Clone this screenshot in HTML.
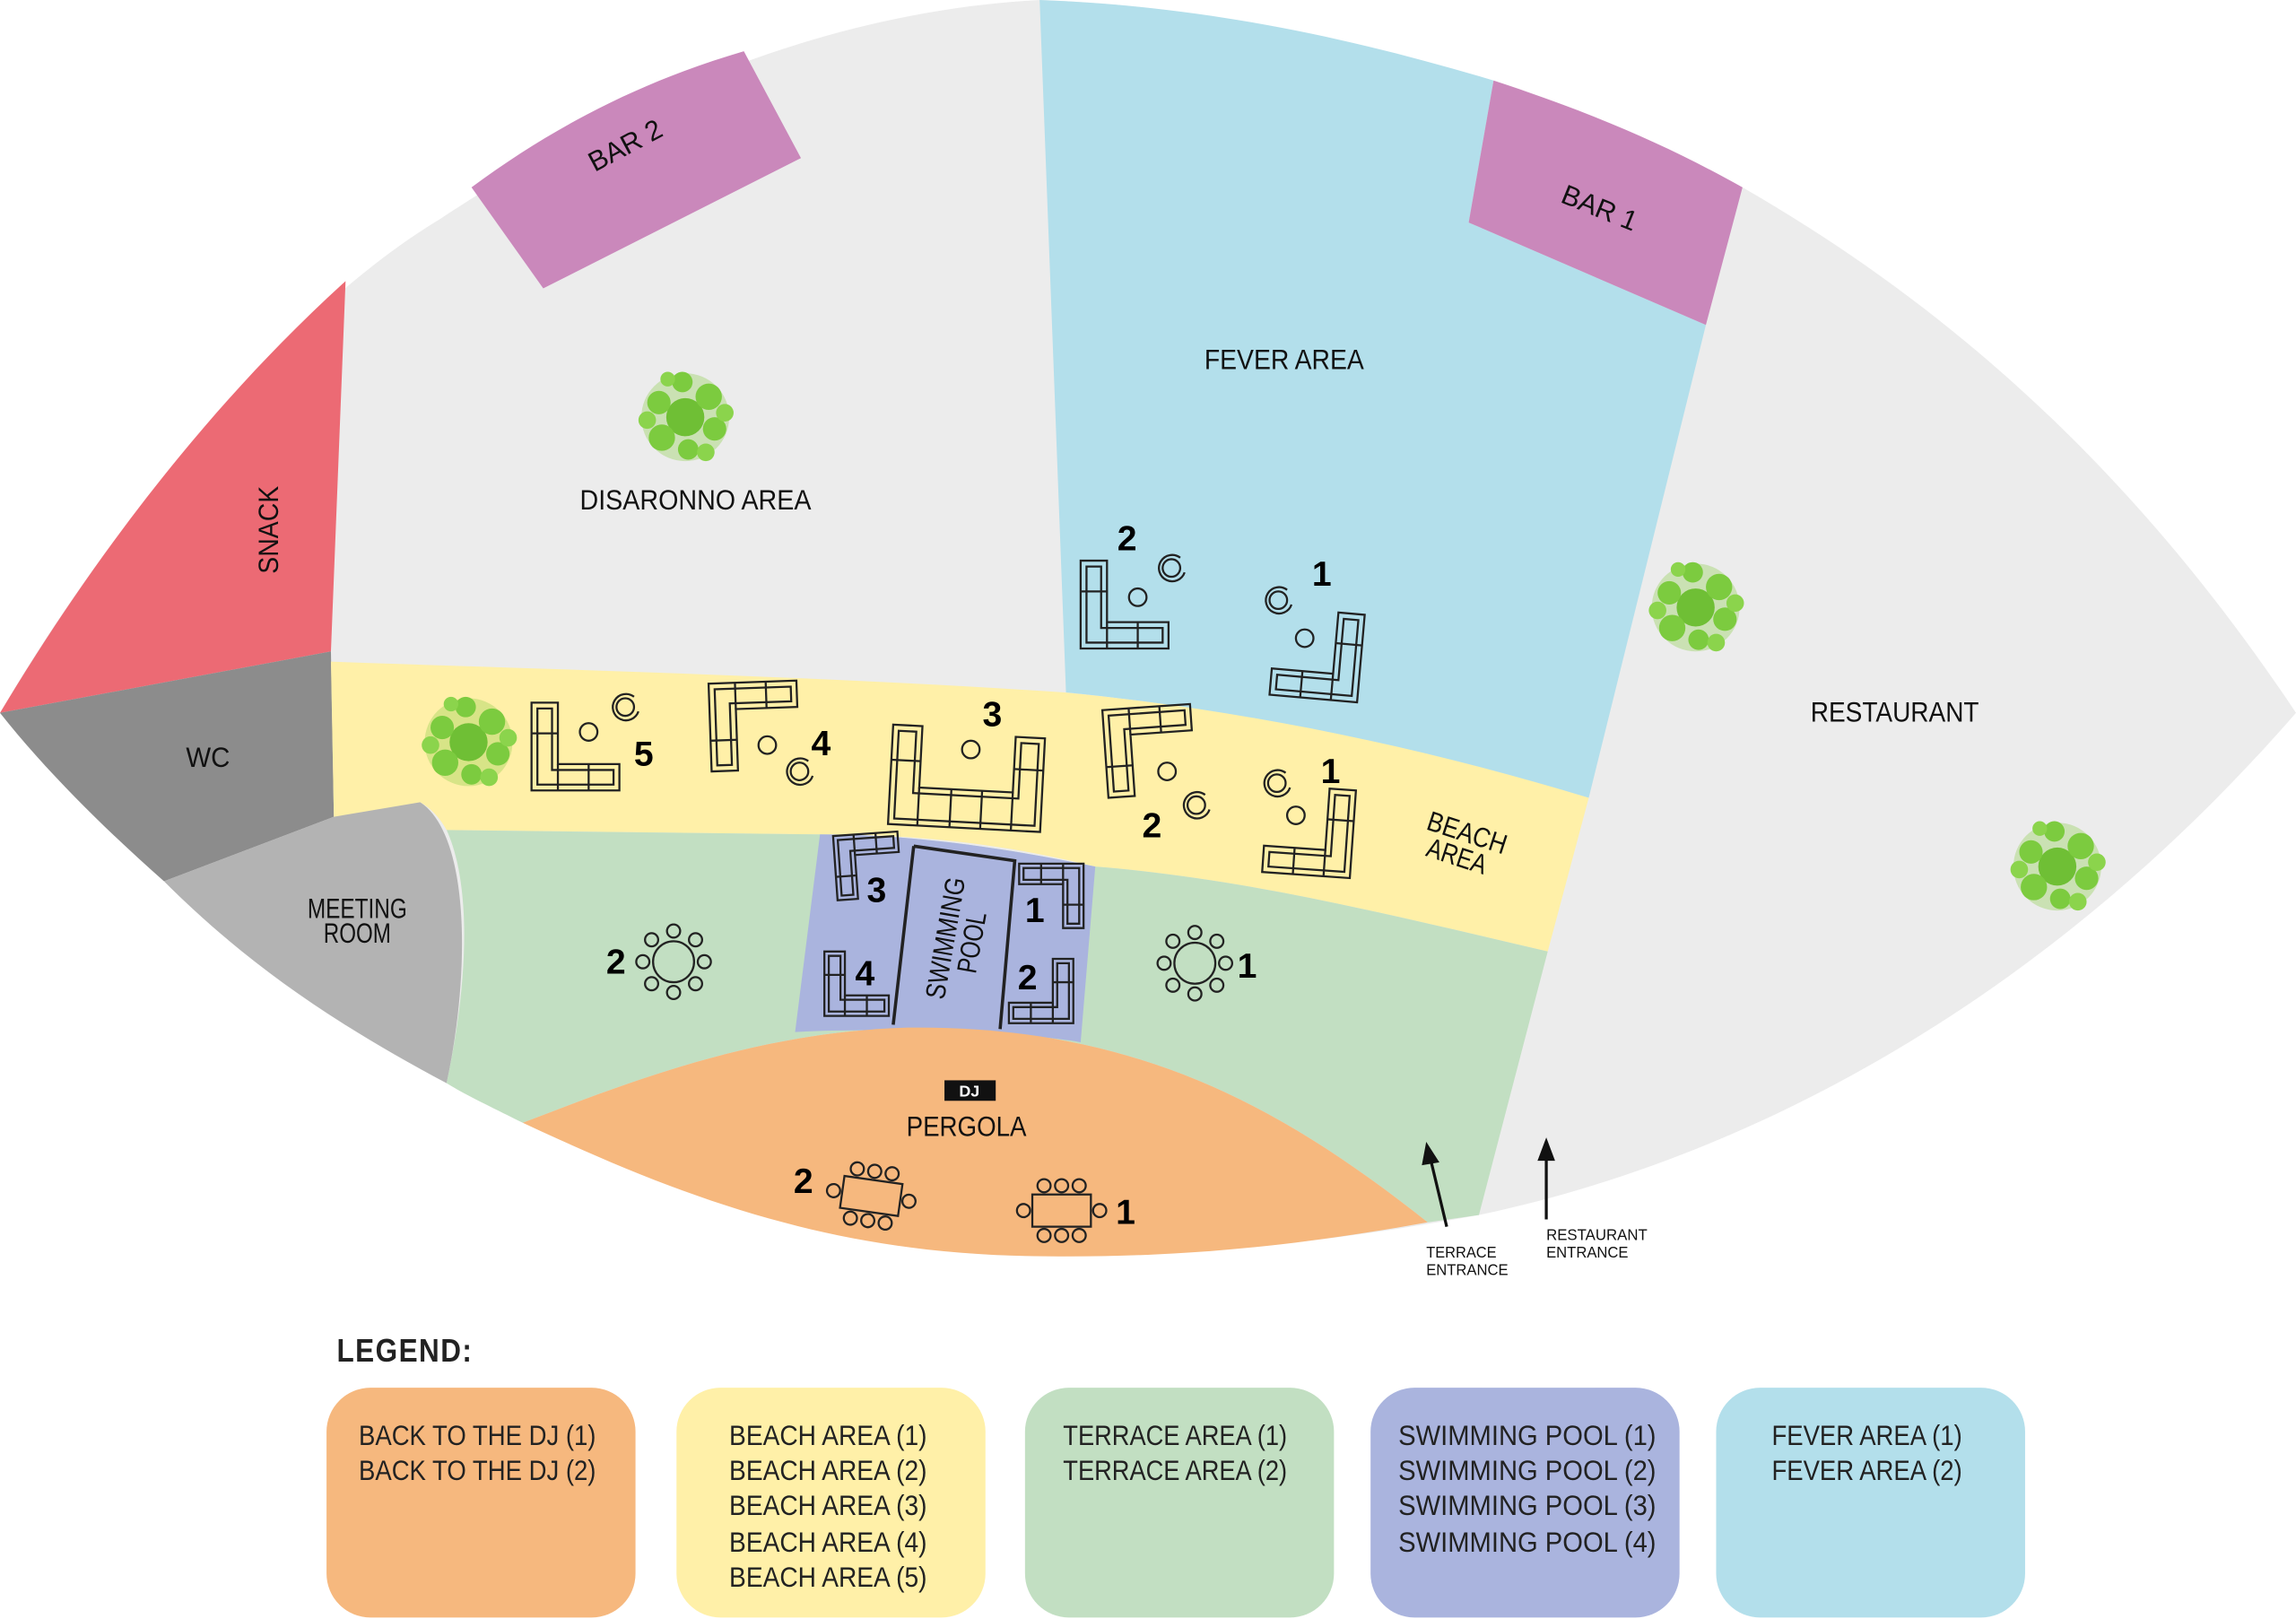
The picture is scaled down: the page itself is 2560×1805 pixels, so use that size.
<!DOCTYPE html>
<html><head><meta charset="utf-8"><style>
html,body{margin:0;padding:0;background:#fff;}
svg{display:block;}
text{font-family:"Liberation Sans Narrow","Liberation Sans",sans-serif;}
.lbl{font-size:19px;fill:#111;}
.num{font-size:24px;font-weight:bold;fill:#000;}
.lg{font-size:19px;fill:#222;}
.f{fill:none;stroke:#222;stroke-width:1.4;}
</style></head><body>
<svg width="2560" height="1805" viewBox="0 0 1568 1106" preserveAspectRatio="none" xmlns="http://www.w3.org/2000/svg">
<defs>
<g id="tree">
<circle r="30" fill="#8bcf4a" opacity="0.35"/>
<circle cx="0" cy="0" r="13" fill="#6fbf35"/>
<circle cx="-18" cy="-10" r="8" fill="#7ccb3f"/><circle cx="16" cy="-14" r="9" fill="#7ccb3f"/>
<circle cx="20" cy="8" r="8" fill="#7ccb3f"/><circle cx="-16" cy="14" r="9" fill="#7ccb3f"/>
<circle cx="2" cy="22" r="7" fill="#7ccb3f"/><circle cx="-2" cy="-24" r="7" fill="#7ccb3f"/>
<circle cx="-26" cy="2" r="6" fill="#8bd44c"/><circle cx="27" cy="-3" r="6" fill="#8bd44c"/>
<circle cx="14" cy="24" r="6" fill="#8bd44c"/><circle cx="-12" cy="-26" r="5" fill="#8bd44c"/>
</g>
<g id="sofaL" class="f">
<path d="M0 0h18v42h42v18H0z"/><path d="M4 4h10v42h42v10H4z"/>
<path d="M0 21h18M18 42v18M39 42v18"/>
</g>
<g id="sofaS" class="f">
<path d="M0 0h14v30h30v14H0z"/><path d="M3 3h8v30h30v8H3z"/>
<path d="M0 16h14M14 30v14M29 30v14"/>
</g>
<g id="rt" class="f">
<circle r="14"/>
<circle cx="0" cy="-21" r="4.5"/><circle cx="15" cy="-15" r="4.5"/><circle cx="21" cy="0" r="4.5"/><circle cx="15" cy="15" r="4.5"/>
<circle cx="0" cy="21" r="4.5"/><circle cx="-15" cy="15" r="4.5"/><circle cx="-21" cy="0" r="4.5"/><circle cx="-15" cy="-15" r="4.5"/>
</g>
<g id="tab" class="f">
<rect x="-20" y="-11" width="40" height="22"/>
<circle cx="-12" cy="-17" r="4.5"/><circle cx="0" cy="-17" r="4.5"/><circle cx="12" cy="-17" r="4.5"/>
<circle cx="-12" cy="17" r="4.5"/><circle cx="0" cy="17" r="4.5"/><circle cx="12" cy="17" r="4.5"/>
<circle cx="-26" cy="0" r="4.5"/><circle cx="26" cy="0" r="4.5"/>
</g>
<g id="chair" class="f"><path d="M6 -7 A9 9 0 1 0 9 3"/><circle r="6"/></g>
</defs>
<path d="M0 487 C80 350 200 210 300 150 C420 70 560 8 710 0 C850 5 1000 40 1190 128 C1350 220 1470 340 1568 487 C1400 680 1200 790 1010 830 C900 850 800 860 700 858 C560 855 450 810 305 740 C200 680 100 600 0 487Z" fill="#ececec"/>
<path d="M0 487 C70 370 150 270 236 192 L226 445 Z" fill="#ec6a74"/>
<path d="M0 487 L226 445 L228 558 L112 602 C70 565 30 525 0 487Z" fill="#8c8c8c"/>
<path d="M112 602 L228 558 C250 552 270 548 287 548 C320 570 322 660 305 740 C230 700 170 660 112 602Z" fill="#b3b3b3"/>
<path d="M710 0 C820 4 920 25 1020 55 L1003 152 L1165 222 L1085 545 C960 510 850 485 728 473 Z" fill="#b3dfeb"/>
<path d="M322 128 C380 85 440 55 508 35 L547 108 L371 197Z" fill="#ca88bb"/>
<path d="M1020 55 C1090 78 1140 100 1190 128 L1165 222 L1003 152Z" fill="#ca88bb"/>
<path d="M226 452 C400 458 560 462 727 473 C850 485 970 510 1085 545 L1057 650 C950 625 850 600 748 592 C680 575 620 570 560 570 L305 567 C300 558 294 552 287 548 L228 558Z" fill="#fff0a8"/>
<path d="M305 567 L560 570 C620 570 680 578 748 592 C850 600 950 625 1057 650 L1010 830 L975 835 C880 760 780 700 620 702 C520 705 440 735 357 767 C335 756 318 748 305 740 C322 660 320 600 305 567Z" fill="#c2dfc2"/>
<path d="M560 570 C620 570 680 578 748 592 L738 712 C700 705 600 702 543 705Z" fill="#aab4de"/>
<path d="M357 767 C440 735 520 705 620 702 C780 700 880 760 975 835 C880 852 800 860 700 858 C560 855 460 815 357 767Z" fill="#f6b87e"/>
<path d="M624 578 L693 588 L683 703 M610 700 L624 578" fill="none" stroke="#222" stroke-width="2.2"/>
<text class="lbl" font-size="17" transform="translate(652,642) rotate(-80)" text-anchor="middle" textLength="84" lengthAdjust="spacingAndGlyphs">SWIMMING</text>
<text class="lbl" font-size="17" transform="translate(670,645) rotate(-80)" text-anchor="middle" textLength="42" lengthAdjust="spacingAndGlyphs">POOL</text>
<text class="lbl" x="430" y="105" transform="rotate(-28 430 105)" text-anchor="middle" textLength="54" lengthAdjust="spacingAndGlyphs">BAR 2</text>
<text class="lbl" x="1090" y="148" transform="rotate(22 1090 148)" text-anchor="middle" textLength="54" lengthAdjust="spacingAndGlyphs">BAR 1</text>
<text class="lbl" x="877" y="252" text-anchor="middle" textLength="109" lengthAdjust="spacingAndGlyphs">FEVER AREA</text>
<text class="lbl" x="475" y="348" text-anchor="middle" textLength="158" lengthAdjust="spacingAndGlyphs">DISARONNO AREA</text>
<text class="lbl" x="1294" y="493" text-anchor="middle" textLength="115" lengthAdjust="spacingAndGlyphs">RESTAURANT</text>
<text class="lbl" transform="translate(190,362) rotate(-90)" text-anchor="middle" textLength="60" lengthAdjust="spacingAndGlyphs">SNACK</text>
<text class="lbl" x="142" y="524" text-anchor="middle" textLength="30" lengthAdjust="spacingAndGlyphs">WC</text>
<text class="lbl" font-size="16" x="244" y="627" text-anchor="middle" textLength="68" lengthAdjust="spacingAndGlyphs">MEETING</text>
<text class="lbl" font-size="16" x="244" y="644" text-anchor="middle" textLength="46" lengthAdjust="spacingAndGlyphs">ROOM</text>
<text class="lbl" font-size="17" transform="translate(1000,575) rotate(18)" text-anchor="middle" textLength="56" lengthAdjust="spacingAndGlyphs">BEACH</text>
<text class="lbl" font-size="17" transform="translate(993,591) rotate(18)" text-anchor="middle" textLength="42" lengthAdjust="spacingAndGlyphs">AREA</text>
<rect x="645" y="738" width="35" height="14" fill="#111"/>
<text x="662" y="749" fill="#fff" font-size="11" font-weight="bold" text-anchor="middle">DJ</text>
<text class="lbl" x="660" y="776" text-anchor="middle" textLength="82" lengthAdjust="spacingAndGlyphs">PERGOLA</text>
<path d="M988 838 L977 792" stroke="#111" stroke-width="2"/><path d="M974 780 L971 796 L983 794Z" fill="#111"/>
<path d="M1056 833 L1056 790" stroke="#111" stroke-width="2"/><path d="M1056 777 L1050 793 L1062 793Z" fill="#111"/>
<text font-size="11" x="974" y="859" fill="#111" textLength="48" lengthAdjust="spacingAndGlyphs">TERRACE</text><text font-size="11" x="974" y="871" fill="#111" textLength="56" lengthAdjust="spacingAndGlyphs">ENTRANCE</text>
<text font-size="11" x="1056" y="847" fill="#111" textLength="69" lengthAdjust="spacingAndGlyphs">RESTAURANT</text><text font-size="11" x="1056" y="859" fill="#111" textLength="56" lengthAdjust="spacingAndGlyphs">ENTRANCE</text>
<use href="#tree" x="468" y="285"/><use href="#tree" x="320" y="507"/><use href="#tree" x="1158" y="415"/><use href="#tree" x="1405" y="592"/>
<use href="#sofaL" x="738" y="383"/><use href="#chair" x="800" y="388"/><circle class="f" cx="777" cy="408" r="6"/><text class="num" x="763" y="376">2</text>
<use href="#sofaL" transform="translate(932,420) scale(-1,1) rotate(-5)"/><use href="#chair" x="873" y="410"/><circle class="f" cx="891" cy="436" r="6"/><text class="num" x="896" y="400">1</text>
<use href="#sofaL" x="363" y="480"/><circle class="f" cx="402" cy="500" r="6"/><use href="#chair" x="427" y="483"/><text class="num" x="433" y="523">5</text>
<use href="#sofaL" transform="translate(486,527) scale(1,-1) rotate(2)"/><circle class="f" cx="524" cy="509" r="6"/><use href="#chair" x="546" y="527"/><text class="num" x="554" y="516">4</text>
<g class="f" transform="translate(610,495) rotate(3)"><path d="M0 0h20v42h64v-38h20v64H0z"/><path d="M4 4h12v42h72v-38h12v56H4z"/><path d="M0 24h20M84 26h20M20 42v26M42 42v26M63 42v26M84 42v26"/></g>
<circle class="f" cx="663" cy="512" r="6"/><text class="num" x="671" y="496">3</text>
<use href="#sofaL" transform="translate(757,545) scale(1,-1) rotate(4)"/><circle class="f" cx="797" cy="527" r="6"/><use href="#chair" x="817" y="550"/><text class="num" x="780" y="572">2</text>
<use href="#sofaL" transform="translate(926,540) scale(-1,1) rotate(-4)"/><circle class="f" cx="885" cy="557" r="6"/><use href="#chair" x="872" y="535"/><text class="num" x="902" y="535">1</text>
<use href="#sofaS" transform="translate(572,615) scale(1,-1) rotate(4)"/><text class="num" x="592" y="616">3</text>
<use href="#sofaS" x="563" y="650"/><text class="num" x="584" y="673">4</text>
<use href="#sofaS" transform="translate(740,634) scale(-1,-1)"/><text class="num" x="700" y="630">1</text>
<use href="#sofaS" transform="translate(733,655) scale(-1,1)"/><text class="num" x="695" y="676">2</text>
<use href="#rt" x="460" y="657"/><text class="num" x="414" y="665">2</text>
<use href="#rt" x="816" y="658"/><text class="num" x="845" y="668">1</text>
<use href="#tab" transform="translate(595,817) rotate(8)"/><text class="num" x="542" y="815">2</text>
<use href="#tab" x="725" y="827"/><text class="num" x="762" y="836">1</text>
<text x="230" y="930" font-size="22" font-weight="bold" fill="#222" letter-spacing="1" textLength="93" lengthAdjust="spacingAndGlyphs">LEGEND:</text>
<rect x="223" y="948" width="211" height="157" rx="30" fill="#f6b87e"/>
<rect x="462" y="948" width="211" height="157" rx="30" fill="#fff0a8"/>
<rect x="700" y="948" width="211" height="157" rx="30" fill="#c2dfc2"/>
<rect x="936" y="948" width="211" height="157" rx="30" fill="#aab4de"/>
<rect x="1172" y="948" width="211" height="157" rx="30" fill="#b3dfeb"/>
<text class="lg" x="245" y="987" textLength="162" lengthAdjust="spacingAndGlyphs">BACK TO THE DJ (1)</text><text class="lg" x="245" y="1011" textLength="162" lengthAdjust="spacingAndGlyphs">BACK TO THE DJ (2)</text>
<text class="lg" x="498" y="987" textLength="135" lengthAdjust="spacingAndGlyphs">BEACH AREA (1)</text><text class="lg" x="498" y="1011" textLength="135" lengthAdjust="spacingAndGlyphs">BEACH AREA (2)</text><text class="lg" x="498" y="1035" textLength="135" lengthAdjust="spacingAndGlyphs">BEACH AREA (3)</text><text class="lg" x="498" y="1060" textLength="135" lengthAdjust="spacingAndGlyphs">BEACH AREA (4)</text><text class="lg" x="498" y="1084" textLength="135" lengthAdjust="spacingAndGlyphs">BEACH AREA (5)</text>
<text class="lg" x="726" y="987" textLength="153" lengthAdjust="spacingAndGlyphs">TERRACE AREA (1)</text><text class="lg" x="726" y="1011" textLength="153" lengthAdjust="spacingAndGlyphs">TERRACE AREA (2)</text>
<text class="lg" x="955" y="987" textLength="176" lengthAdjust="spacingAndGlyphs">SWIMMING POOL (1)</text><text class="lg" x="955" y="1011" textLength="176" lengthAdjust="spacingAndGlyphs">SWIMMING POOL (2)</text><text class="lg" x="955" y="1035" textLength="176" lengthAdjust="spacingAndGlyphs">SWIMMING POOL (3)</text><text class="lg" x="955" y="1060" textLength="176" lengthAdjust="spacingAndGlyphs">SWIMMING POOL (4)</text>
<text class="lg" x="1210" y="987" textLength="130" lengthAdjust="spacingAndGlyphs">FEVER AREA (1)</text><text class="lg" x="1210" y="1011" textLength="130" lengthAdjust="spacingAndGlyphs">FEVER AREA (2)</text>
</svg>
</body></html>
